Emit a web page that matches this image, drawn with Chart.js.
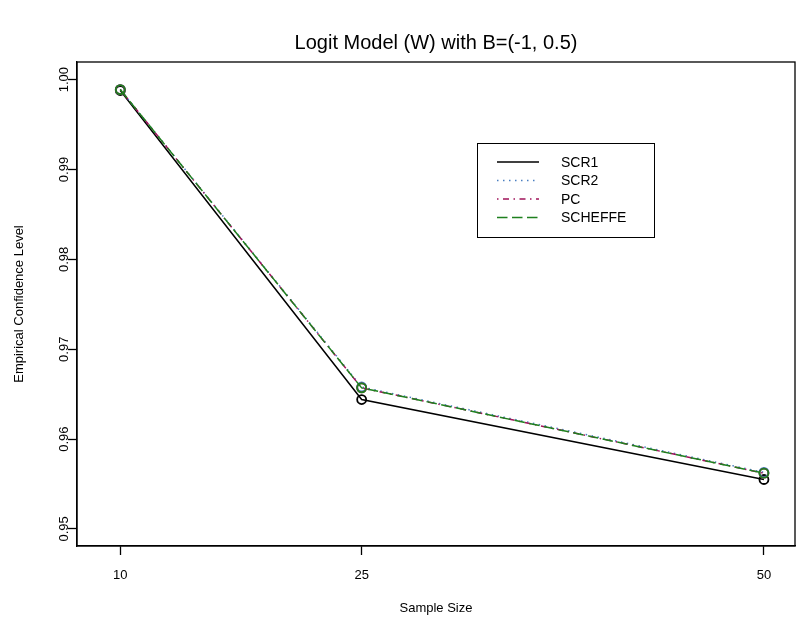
<!DOCTYPE html>
<html>
<head>
<meta charset="utf-8">
<script src="https://cdn.jsdelivr.net/npm/chart.js@4"></script>
<style>
  body { margin: 0; background: #fff; }
  #wrap { width: 796px; height: 624px; }
</style>
</head>
<body>
<div id="wrap"><canvas id="myChart" width="796" height="624"></canvas></div>
<script>
// data
var sampleSizes = [10, 25, 50];
var scr1 = [0.9988, 0.9644, 0.9555];
var scr2 = [0.9989, 0.9658, 0.9563];
var pc = [0.9989, 0.9657, 0.9562];
var scheffe = [0.9989, 0.9657, 0.9562];

var seriesNames = ["SCR1", "SCR2", "PC", "SCHEFFE"];
var xTicks = [10, 25, 50];
var yTicks = [0.95, 0.96, 0.97, 0.98, 0.99, 1.00];

var FONT = "'Liberation Sans', Arial, Helvetica, sans-serif";

function toPoints(arr) {
    var out = [];
    for (var i = 0; i < sampleSizes.length; i++) {
        out.push({ x: sampleSizes[i], y: arr[i] });
    }
    return out;
}

function makeSet(label, arr, color, dash, order) {
    return {
        label: label,
        data: toPoints(arr),
        borderColor: color,
        borderWidth: 1.5,
        borderDash: dash,
        pointRadius: 4.5,
        pointBorderWidth: 1.8,
        pointBorderColor: color,
        pointBackgroundColor: "rgba(0,0,0,0)",
        tension: 0,
        clip: false,
        order: order
    };
}

// box round the plot and the legend box
var boxPlugin = {
    id: "boxPlugin",
    afterDraw: function (chart) {
        var ctx = chart.ctx;
        var a = chart.chartArea;
        ctx.save();
        ctx.strokeStyle = "#000";
        ctx.lineWidth = 1.3;
        ctx.setLineDash([]);
        ctx.strokeRect(a.left, a.top, a.right - a.left, a.bottom - a.top);

        // legend
        var lx = 477, ly = 143, lw = 177, lh = 94;
        ctx.lineWidth = 1;
        ctx.strokeRect(lx + 0.5, ly + 0.5, lw, lh);
        var rows = [162, 180.5, 199, 217.5];
        var sets = chart.data.datasets;
        ctx.font = "14px " + FONT;
        ctx.textBaseline = "middle";
        ctx.textAlign = "left";
        for (var i = 0; i < sets.length; i++) {
            ctx.beginPath();
            ctx.strokeStyle = sets[i].borderColor;
            ctx.lineWidth = 1.5;
            ctx.setLineDash(sets[i].borderDash || []);
            ctx.moveTo(497, rows[i]);
            ctx.lineTo(539, rows[i]);
            ctx.stroke();
            ctx.fillStyle = "#000";
            ctx.fillText(sets[i].label, 561, rows[i] + 1);
        }
        ctx.restore();
    }
};

new Chart("myChart", {
    type: "line",
    data: {
        datasets: [
            makeSet(seriesNames[0], scr1, "#000000", [], 4),
            makeSet(seriesNames[1], scr2, "#4a7fc1", [1.5, 4.5], 3),
            makeSet(seriesNames[2], pc, "#a0135a", [1.5, 4.5, 6, 4.5], 2),
            makeSet(seriesNames[3], scheffe, "#1e801e", [10.5, 4.5], 1)
        ]
    },
    options: {
        responsive: false,
        animation: false,
        layout: { autoPadding: false, padding: { left: 0, right: 1, top: 0, bottom: 0 } },
        plugins: {
            legend: { display: false },
            tooltip: { enabled: false },
            title: {
                display: true,
                fullSize: false,
                text: "Logit Model (W) with B=(-1, 0.5)",
                color: "#000",
                font: { family: FONT, size: 20, weight: "normal" },
                padding: { top: 31, bottom: 7 }
            }
        },
        scales: {
            x: {
                type: "linear",
                min: 7.31,
                max: 51.93,
                afterBuildTicks: function (scale) {
                    scale.ticks = xTicks.map(function (v) { return { value: v }; });
                },
                afterFit: function (scale) {
                    scale.height = 78;
                    scale.paddingLeft = 0;
                    scale.paddingRight = 0;
                },
                ticks: {
                    color: "#000",
                    font: { family: FONT, size: 13 },
                    padding: 13,
                    maxRotation: 0,
                    callback: function (v) { return String(v); }
                },
                grid: { drawOnChartArea: false, drawTicks: true, tickLength: 9, color: "#000", tickWidth: 1.3 },
                border: { display: true, color: "#000", width: 1.3 },
                title: {
                    display: true,
                    text: "Sample Size",
                    color: "#000",
                    font: { family: FONT, size: 13 },
                    padding: { top: 0, bottom: 8 }
                }
            },
            y: {
                type: "linear",
                min: 0.9481,
                max: 1.00197,
                afterBuildTicks: function (scale) {
                    scale.ticks = yTicks.map(function (v) { return { value: v }; });
                },
                afterFit: function (scale) {
                    scale.width = 77;
                    scale.paddingTop = 0;
                    scale.paddingBottom = 0;
                },
                ticks: {
                    color: "#000",
                    font: { family: FONT, size: 13 },
                    minRotation: 90,
                    maxRotation: 90,
                    crossAlign: "center",
                    padding: -9,
                    callback: function (v) { return v.toFixed(2); }
                },
                grid: { drawOnChartArea: false, drawTicks: true, tickLength: 9, color: "#000", tickWidth: 1.3 },
                border: { display: true, color: "#000", width: 1.3 },
                title: {
                    display: true,
                    text: "Empirical Confidence Level",
                    color: "#000",
                    font: { family: FONT, size: 13 },
                    padding: { top: 12, bottom: 0 }
                }
            }
        }
    },
    plugins: [boxPlugin]
});
</script>
</body>
</html>
